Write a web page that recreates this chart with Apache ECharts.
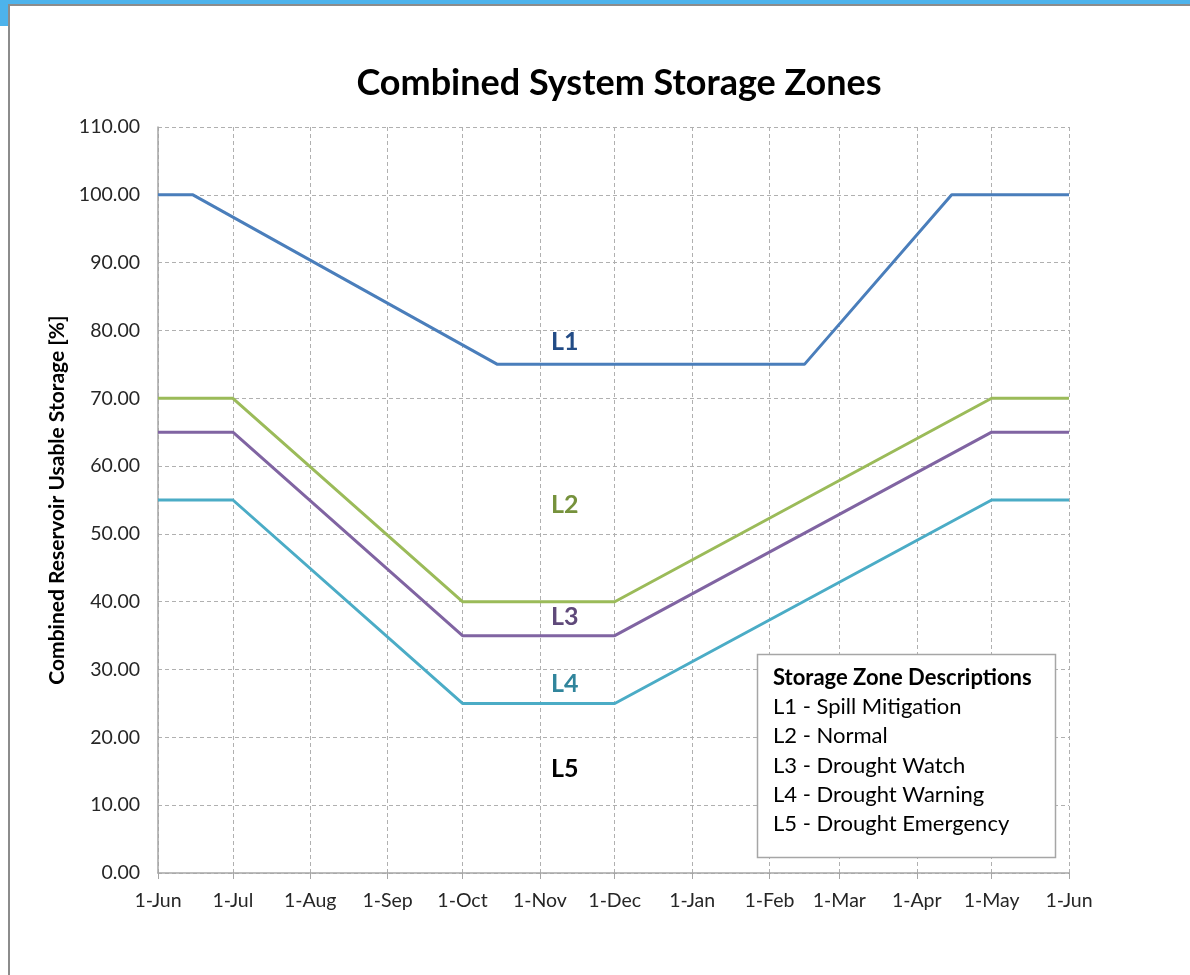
<!DOCTYPE html>
<html>
<head>
<meta charset="utf-8">
<script src="https://cdn.jsdelivr.net/npm/echarts@6/dist/echarts.min.js"></script>
<style>
html,body{margin:0;padding:0;background:#fff;}
#chart{width:1190px;height:975px;}
</style>
</head>
<body>
<div id="chart"></div>
<script>
// ---- data ----
const monthTicks = ['2013-06-01','2013-07-01','2013-08-01','2013-09-01','2013-10-01','2013-11-01','2013-12-01','2014-01-01','2014-02-01','2014-03-01','2014-04-01','2014-05-01','2014-06-01'];
const monthNames = ['Jan','Feb','Mar','Apr','May','Jun','Jul','Aug','Sep','Oct','Nov','Dec'];

const l1Dates = ['2013-06-01','2013-06-15','2013-10-15','2014-02-15','2014-04-15','2014-06-01'];
const l1Values = [100, 100, 75, 75, 100, 100];

const lowDates = ['2013-06-01','2013-07-01','2013-10-01','2013-12-01','2014-05-01','2014-06-01'];
const l2Values = [70, 70, 40, 40, 70, 70];
const l3Values = [65, 65, 35, 35, 65, 65];
const l4Values = [55, 55, 25, 25, 55, 55];

const zoneLabels = ['L1','L2','L3','L4','L5'];
const zoneLabelDate = '2013-11-11';
const zoneLabelValues = [78.3, 54.3, 37.7, 27.9, 15.3];

const descTitle = 'Storage Zone Descriptions';
const descLines = ['L1 - Spill Mitigation','L2 - Normal','L3 - Drought Watch','L4 - Drought Warning','L5 - Drought Emergency'];

// ---- styles ----
const lineColors = ['#4a7ebb','#9bbb59','#8064a2','#4bacc6'];
const labelColors = ['#234c86','#76923c','#5f497a','#31859c','#000000'];
const FONT = 'Lato, "Open Sans", sans-serif';

function ts(s){ const p = s.split('-').map(Number); return new Date(p[0], p[1]-1, p[2]).getTime(); }
function pair(dates, vals){ return dates.map((d,i)=>[ts(d), vals[i]]); }
const tickTs = monthTicks.map(ts);

const chart = echarts.init(document.getElementById('chart'));

const graphics = [
  {type:'rect', shape:{x:0,y:0,width:1190,height:4}, style:{fill:'#4db3ec'}, silent:true},
  {type:'rect', shape:{x:0,y:0,width:8,height:26}, style:{fill:'#4db3ec'}, silent:true},
  {type:'line', shape:{x1:8,y1:5,x2:1190,y2:5}, style:{stroke:'#8c8c8c',lineWidth:2}, silent:true},
  {type:'line', shape:{x1:9,y1:5,x2:9,y2:975}, style:{stroke:'#8c8c8c',lineWidth:2}, silent:true},
  {type:'rect', shape:{x:757.5,y:654.5,width:298,height:203}, style:{fill:'#fff',stroke:'#a6a6a6',lineWidth:1.5}, z:10},
  {type:'text', x:773, y:678, style:{text:descTitle, font:'bold 22px '+FONT, fill:'#000', textVerticalAlign:'middle'}, z:11}
];
descLines.forEach((t,i)=>{
  graphics.push({type:'text', x:773, y:707 + i*29.3, style:{text:t, font:'22px '+FONT, fill:'#000', textVerticalAlign:'middle'}, z:11});
});

const series = [
  {name:'L1', type:'line', data:pair(l1Dates,l1Values), symbol:'none', lineStyle:{color:lineColors[0],width:3}, z:3},
  {name:'L2', type:'line', data:pair(lowDates,l2Values), symbol:'none', lineStyle:{color:lineColors[1],width:3}, z:3},
  {name:'L3', type:'line', data:pair(lowDates,l3Values), symbol:'none', lineStyle:{color:lineColors[2],width:3}, z:3},
  {name:'L4', type:'line', data:pair(lowDates,l4Values), symbol:'none', lineStyle:{color:lineColors[3],width:3}, z:3},
  {name:'labels', type:'scatter', symbolSize:0, z:4, itemStyle:{opacity:1},
    data: zoneLabels.map((t,i)=>({value:[ts(zoneLabelDate), zoneLabelValues[i]], name:t,
      label:{show:true, position:'inside', formatter:t, color:labelColors[i], opacity:1, fontSize:25, fontWeight:'bold', fontFamily:FONT}}))
  }
];

chart.setOption({
  backgroundColor:'#ffffff',
  animation:false,
  title:{text:'Combined System Storage Zones', left:614, top:60, textAlign:'center',
    textStyle:{fontSize:36, fontWeight:'bold', color:'#000', fontFamily:FONT}},
  grid:{left:158, right:121, top:127, bottom:102, containLabel:false},
  xAxis:{
    type:'value',
    min:tickTs[0], max:tickTs[tickTs.length-1],
    axisLine:{show:true, lineStyle:{color:'#a6a6a6', width:1.5}},
    axisTick:{show:true, length:6, customValues:tickTs, lineStyle:{color:'#a6a6a6'}},
    axisLabel:{customValues:tickTs, color:'#262626', fontSize:19.5, fontFamily:FONT, margin:18,
      formatter:function(v){ const d=new Date(v); return d.getDate()+'-'+monthNames[d.getMonth()]; }},
    splitLine:{show:true, lineStyle:{color:'#b0b0b0', type:[4,3], width:1}}
  },
  yAxis:{
    type:'value', min:0, max:110, interval:10,
    name:'Combined Reservoir Usable Storage [%]', nameLocation:'middle', nameGap:87,
    nameTextStyle:{fontSize:21, fontWeight:'bold', color:'#000', fontFamily:FONT},
    axisLine:{show:true, lineStyle:{color:'#a6a6a6', width:1.5}},
    axisTick:{show:false},
    axisLabel:{color:'#262626', fontSize:19.5, fontFamily:FONT, margin:18, formatter:v=>v.toFixed(2)},
    splitLine:{show:true, lineStyle:{color:'#b0b0b0', type:[4,3], width:1}}
  },
  graphic:graphics,
  series:series
});
</script>
</body>
</html>
